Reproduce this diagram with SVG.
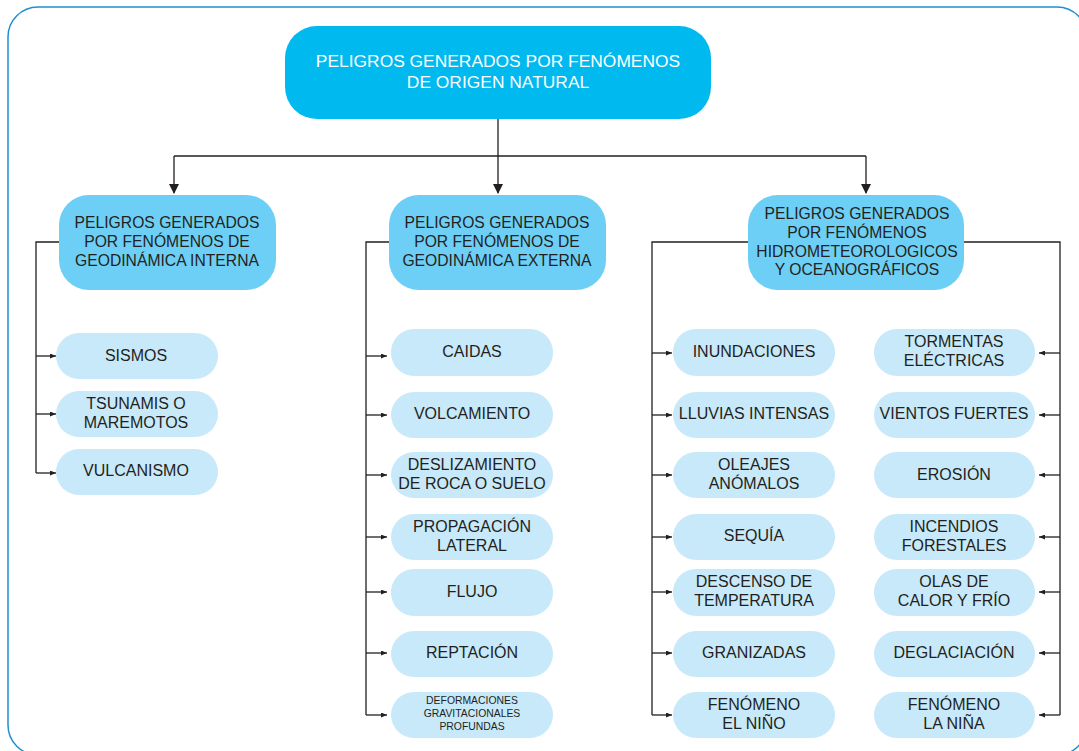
<svg xmlns="http://www.w3.org/2000/svg" width="1079" height="751" viewBox="0 0 1079 751">
<style>
text{font-family:"Liberation Sans",Arial,sans-serif;font-size:16px;fill:#231F20;text-anchor:middle}
.top text{fill:#FFFFFF;font-size:17.4px}
.mid text{font-size:15.7px}
.l1{fill:#6DCFF6}
.leaf{fill:#C8E9F9}
.c{fill:none;stroke:#231F20;stroke-width:1.3}
text.small{font-size:10.4px}
</style>
<defs>
<marker id="big" markerWidth="10" markerHeight="12" refX="9" refY="5" orient="auto" markerUnits="userSpaceOnUse" viewBox="0 0 10 10">
<path d="M0,0 L10,5 L0,10 z" fill="#231F20"/>
</marker>
<marker id="sm" markerWidth="6" markerHeight="5" refX="6" refY="2.5" orient="auto" markerUnits="userSpaceOnUse" viewBox="0 0 6 5">
<path d="M0,0 L6,2.5 L0,5 z" fill="#231F20"/>
</marker>
</defs>
<rect x="8" y="7" width="1079" height="748" rx="30" fill="#FFFFFF" stroke="#1E8FD5" stroke-width="1.5"/>

<g id="connectors">
<path class="c" d="M498,103 V193" marker-end="url(#big)"/>
<path class="c" d="M174,156 H866"/>
<path class="c" d="M174,156 V193" marker-end="url(#big)"/>
<path class="c" d="M866,156 V193" marker-end="url(#big)"/>
<path class="c" d="M59,242 H36 V473"/>
<path class="c" d="M36,356 H56" marker-end="url(#sm)"/>
<path class="c" d="M36,414 H56" marker-end="url(#sm)"/>
<path class="c" d="M36,473 H56" marker-end="url(#sm)"/>
<path class="c" d="M389,242 H366 V715"/>
<path class="c" d="M366,356 H387" marker-end="url(#sm)"/>
<path class="c" d="M366,415 H387" marker-end="url(#sm)"/>
<path class="c" d="M366,475 H387" marker-end="url(#sm)"/>
<path class="c" d="M366,537 H387" marker-end="url(#sm)"/>
<path class="c" d="M366,592 H387" marker-end="url(#sm)"/>
<path class="c" d="M366,653 H387" marker-end="url(#sm)"/>
<path class="c" d="M366,715 H387" marker-end="url(#sm)"/>
<path class="c" d="M748,242 H652 V715"/>
<path class="c" d="M652,353 H672" marker-end="url(#sm)"/>
<path class="c" d="M652,415 H672" marker-end="url(#sm)"/>
<path class="c" d="M652,475 H672" marker-end="url(#sm)"/>
<path class="c" d="M652,537 H672" marker-end="url(#sm)"/>
<path class="c" d="M652,592 H672" marker-end="url(#sm)"/>
<path class="c" d="M652,653 H672" marker-end="url(#sm)"/>
<path class="c" d="M652,715 H672" marker-end="url(#sm)"/>
<path class="c" d="M964,242 H1060 V715"/>
<path class="c" d="M1060,353 H1039" marker-end="url(#sm)"/>
<path class="c" d="M1060,415 H1039" marker-end="url(#sm)"/>
<path class="c" d="M1060,475 H1039" marker-end="url(#sm)"/>
<path class="c" d="M1060,537 H1039" marker-end="url(#sm)"/>
<path class="c" d="M1060,592 H1039" marker-end="url(#sm)"/>
<path class="c" d="M1060,653 H1039" marker-end="url(#sm)"/>
<path class="c" d="M1060,715 H1039" marker-end="url(#sm)"/>
</g>

<g id="root" class="top">
<rect x="285" y="26" width="426" height="93" rx="32" fill="#00B9EF"/>
<text x="498" y="67">PELIGROS GENERADOS POR FENÓMENOS</text>
<text x="498" y="88">DE ORIGEN NATURAL</text>
</g>

<g id="interna" class="mid">
<rect class="l1" x="59" y="195" width="217" height="95" rx="30"/>
<text x="167" y="228">PELIGROS GENERADOS</text>
<text x="167" y="247">POR FENÓMENOS DE</text>
<text x="167" y="266">GEODINÁMICA INTERNA</text>
</g>
<g id="externa" class="mid">
<rect class="l1" x="389" y="195" width="217" height="95" rx="30"/>
<text x="497" y="228">PELIGROS GENERADOS</text>
<text x="497" y="247">POR FENÓMENOS DE</text>
<text x="497" y="266">GEODINÁMICA EXTERNA</text>
</g>
<g id="hidro" class="mid">
<rect class="l1" x="748" y="195" width="216" height="95" rx="30"/>
<text x="857" y="219">PELIGROS GENERADOS</text>
<text x="857" y="238">POR FENÓMENOS</text>
<text x="857" y="257">HIDROMETEOROLOGICOS</text>
<text x="857" y="275">Y OCEANOGRÁFICOS</text>
</g>

<g id="sismos"><rect class="leaf" x="56" y="333" width="162" height="46" rx="23"/><text x="136" y="361">SISMOS</text></g>
<g id="tsunamis"><rect class="leaf" x="56" y="391" width="162" height="46" rx="23"/><text x="136" y="409">TSUNAMIS O</text><text x="136" y="428">MAREMOTOS</text></g>
<g id="vulcanismo"><rect class="leaf" x="56" y="449" width="162" height="46" rx="23"/><text x="136" y="476">VULCANISMO</text></g>

<g id="caidas"><rect class="leaf" x="391" y="329" width="162" height="47" rx="23"/><text x="472" y="357">CAIDAS</text></g>
<g id="volcamiento"><rect class="leaf" x="391" y="392" width="162" height="46" rx="23"/><text x="472" y="419">VOLCAMIENTO</text></g>
<g id="deslizamiento"><rect class="leaf" x="391" y="452" width="162" height="46" rx="23"/><text x="472" y="470">DESLIZAMIENTO</text><text x="472" y="489">DE ROCA O SUELO</text></g>
<g id="propagacion"><rect class="leaf" x="391" y="514" width="162" height="46" rx="23"/><text x="472" y="532">PROPAGACIÓN</text><text x="472" y="551">LATERAL</text></g>
<g id="flujo"><rect class="leaf" x="391" y="569" width="162" height="47" rx="23"/><text x="472" y="597">FLUJO</text></g>
<g id="reptacion"><rect class="leaf" x="391" y="631" width="162" height="46" rx="23"/><text x="472" y="658">REPTACIÓN</text></g>
<g id="deformaciones"><rect class="leaf" x="391" y="692" width="162" height="46" rx="23"/><text class="small" x="472" y="704">DEFORMACIONES</text><text class="small" x="472" y="717">GRAVITACIONALES</text><text class="small" x="472" y="730">PROFUNDAS</text></g>

<g id="inundaciones"><rect class="leaf" x="673" y="329" width="162" height="47" rx="23"/><text x="754" y="357">INUNDACIONES</text></g>
<g id="lluvias"><rect class="leaf" x="673" y="392" width="162" height="46" rx="23"/><text x="754" y="419">LLUVIAS INTENSAS</text></g>
<g id="oleajes"><rect class="leaf" x="673" y="452" width="162" height="46" rx="23"/><text x="754" y="470">OLEAJES</text><text x="754" y="489">ANÓMALOS</text></g>
<g id="sequia"><rect class="leaf" x="673" y="514" width="162" height="46" rx="23"/><text x="754" y="541">SEQUÍA</text></g>
<g id="descenso"><rect class="leaf" x="673" y="569" width="162" height="47" rx="23"/><text x="754" y="587">DESCENSO DE</text><text x="754" y="606">TEMPERATURA</text></g>
<g id="granizadas"><rect class="leaf" x="673" y="631" width="162" height="46" rx="23"/><text x="754" y="658">GRANIZADAS</text></g>
<g id="nino"><rect class="leaf" x="673" y="692" width="162" height="46" rx="23"/><text x="754" y="710">FENÓMENO</text><text x="754" y="729">EL NIÑO</text></g>

<g id="tormentas"><rect class="leaf" x="874" y="329" width="161" height="47" rx="23"/><text x="954" y="347">TORMENTAS</text><text x="954" y="366">ELÉCTRICAS</text></g>
<g id="vientos"><rect class="leaf" x="874" y="392" width="161" height="46" rx="23"/><text x="954" y="419">VIENTOS FUERTES</text></g>
<g id="erosion"><rect class="leaf" x="874" y="452" width="161" height="46" rx="23"/><text x="954" y="480">EROSIÓN</text></g>
<g id="incendios"><rect class="leaf" x="874" y="514" width="161" height="46" rx="23"/><text x="954" y="532">INCENDIOS</text><text x="954" y="551">FORESTALES</text></g>
<g id="olas"><rect class="leaf" x="874" y="569" width="161" height="47" rx="23"/><text x="954" y="587">OLAS DE</text><text x="954" y="606">CALOR Y FRÍO</text></g>
<g id="deglaciacion"><rect class="leaf" x="874" y="631" width="161" height="46" rx="23"/><text x="954" y="658">DEGLACIACIÓN</text></g>
<g id="nina"><rect class="leaf" x="874" y="692" width="161" height="46" rx="23"/><text x="954" y="710">FENÓMENO</text><text x="954" y="729">LA NIÑA</text></g>
</svg>
